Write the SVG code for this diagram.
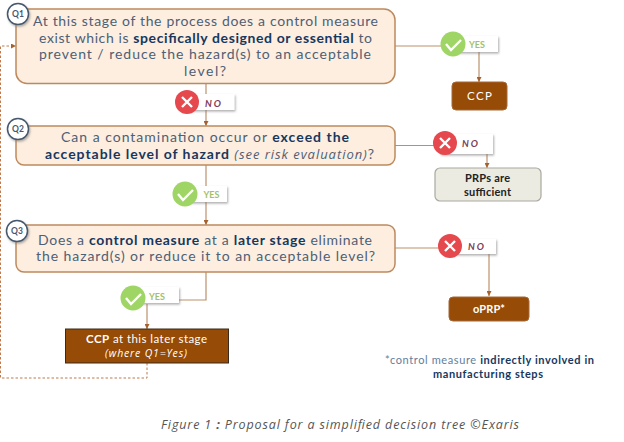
<svg xmlns="http://www.w3.org/2000/svg" width="624" height="442" viewBox="0 0 624 442">
<style>
text{font-family:"Lato","Noto Sans",sans-serif}
.q{fill:#fdeee0;stroke:#bd8a5e;stroke-width:1.5}
.t{font-size:14px;fill:#4d6075}
.t tspan.b{font-weight:700;fill:#17375e}
.i{font-family:"Open Sans","Noto Sans",sans-serif;font-style:italic;font-weight:400}
.c{fill:none;stroke:#bc8f6c;stroke-width:1.2}
.d{fill:none;stroke:#c0784a;stroke-width:1;stroke-dasharray:2.5 2}
.dark{fill:#964B06;stroke:#a5683a;stroke-width:1}
.lab{fill:#fff;filter:url(#sh)}
.yes{font-size:9px;font-weight:700;fill:#a3bf6a;text-anchor:middle}
.no{font-size:9.5px;font-weight:700;font-style:italic;fill:#7c3a56;text-anchor:middle;letter-spacing:2px}
.badge{fill:#fff;stroke:#44586e;stroke-width:1.5;filter:url(#sh)}
.bt{font-size:8.5px;font-weight:700;fill:#44586e;text-anchor:middle}
.g{fill:#9ed565}.r{fill:#e5484d}
.m{fill:none;stroke:#fff;stroke-width:2.4}
.w{fill:#fff}
</style>
<defs>
<filter id="sh" x="-30%" y="-30%" width="170%" height="170%"><feDropShadow dx="1" dy="1.5" stdDeviation="1" flood-color="#777" flood-opacity=".6"/></filter>
<marker id="a" markerWidth="6" markerHeight="5" refX="5" refY="2.5" orient="auto" markerUnits="userSpaceOnUse"><path d="M0 0L5 2.5L0 5z" fill="#a5622e"/></marker>
</defs>
<rect width="624" height="442" fill="#fff"/>
<g id="connectors">
<path class="c" d="M206 84V126" marker-end="url(#a)"/>
<path class="c" d="M395 46H445"/>
<path class="c" d="M479 50V82" marker-end="url(#a)"/>
<path class="c" d="M206 165V225" marker-end="url(#a)"/>
<path class="c" d="M395 145.500H440"/>
<path class="c" d="M487 152V168" marker-end="url(#a)"/>
<path class="c" d="M395 248H445"/>
<path class="c" d="M489 252V296" marker-end="url(#a)"/>
<path class="c" d="M206 272V300H175"/>
<path class="c" d="M147 304V329" marker-end="url(#a)"/>
<path class="d" d="M147 363V378H.5V46H16" marker-end="url(#a)"/>
</g>
<g id="q1">
<rect class="q" x="16" y="9" width="379" height="74.500" rx="11"/>
<text class="t" x="33" y="26" textLength="345">At this stage of the process does a control measure</text>
<text class="t" x="39" y="43" textLength="333">exist which is <tspan class="b">specifically designed or essential</tspan> to</text>
<text class="t" x="39" y="59" textLength="332">prevent / reduce the hazard(s) to an acceptable</text>
<text class="t" x="184" y="76" textLength="42">level?</text>
<circle class="badge" cx="18" cy="14" r="10.500"/><text class="bt" x="18" y="17">Q1</text>
</g>
<g id="q2">
<rect class="q" x="16" y="126" width="379" height="39" rx="8"/>
<text class="t" x="61" y="142" textLength="288">Can a contamination occur or <tspan class="b">exceed the</tspan></text>
<text class="t" x="45" y="159" textLength="329"><tspan class="b">acceptable level of hazard</tspan> <tspan class="i" font-size="13">(see risk evaluation)</tspan>?</text>
<circle class="badge" cx="18" cy="129" r="10.500"/><text class="bt" x="18" y="132">Q2</text>
</g>
<g id="q3">
<rect class="q" x="16" y="225" width="379" height="47" rx="8"/>
<text class="t" x="38" y="245" textLength="334">Does a <tspan class="b">control measure</tspan> at a <tspan class="b">later stage</tspan> eliminate</text>
<text class="t" x="36" y="261" textLength="339">the hazard(s) or reduce it to an acceptable level?</text>
<circle class="badge" cx="17" cy="231" r="10.500"/><text class="bt" x="17" y="234">Q3</text>
</g>
<g id="no1"><rect class="lab" x="190" y="94" width="44.500" height="16"/><text class="no" x="214" y="107">NO</text><circle class="r" cx="187" cy="102" r="12"/><path class="m" d="M182 97L192 107M192 97L182 107"/></g>
<g id="yes1"><rect class="lab" x="458" y="36" width="40" height="16"/><text class="yes" x="477" y="48">YES</text><circle class="g" cx="453" cy="44" r="12.500"/><path class="m" d="M446 44L451 50L461 40"/></g>
<g id="ccp"><rect class="dark" x="452" y="82" width="55" height="28" rx="4"/><text class="w" x="467" y="100" font-size="11.500" textLength="25">CCP</text></g>
<g id="no2"><rect class="lab" x="440" y="134" width="53" height="20"/><text class="no" x="471" y="147">NO</text><circle class="r" cx="445" cy="143" r="12"/><path class="m" d="M440 138L450 148M450 138L440 148"/></g>
<g id="prp"><rect x="435" y="168" width="106" height="33" rx="5" fill="#ecebe1" stroke="#a9a99f" stroke-width="1.2"/><text font-size="11" font-weight="700" fill="#222" x="465" y="182" textLength="45">PRPs are</text><text font-size="11" font-weight="700" fill="#222" x="464" y="196" textLength="47">sufficient</text></g>
<g id="yes2"><rect class="lab" x="190" y="186" width="37" height="16"/><text class="yes" x="211.500" y="198">YES</text><circle class="g" cx="185" cy="194" r="12.500"/><path class="m" d="M178 194L183 200L193 190"/></g>
<g id="no3"><rect class="lab" x="455" y="239" width="41" height="15"/><text class="no" x="477" y="250">NO</text><circle class="r" cx="450" cy="246" r="12"/><path class="m" d="M445 241L455 251M455 241L445 251"/></g>
<g id="oprp"><rect class="dark" x="449" y="297" width="80" height="24" rx="4"/><text class="w" x="473" y="313" font-size="11" font-weight="700" textLength="32">oPRP*</text></g>
<g id="yes3"><rect class="lab" x="138" y="287" width="41" height="16"/><text class="yes" x="157" y="300">YES</text><circle class="g" cx="133" cy="298" r="12.500"/><path class="m" d="M126 298L131 304L141 294"/></g>
<g id="ccp2"><rect x="65.500" y="329" width="163" height="34" fill="#964B06" stroke="#3d2a1a" stroke-width="1"/><text class="w" x="86" y="343" font-size="11.500" textLength="121"><tspan font-weight="700">CCP</tspan> at this later stage</text><text class="w i" x="105" y="357" font-size="10.500" textLength="82">(where Q1=Yes)</text></g>
<g id="note" font-size="11" fill="#17375e"><text x="385" y="364" textLength="209"><tspan fill="#5f7ea0">*control measure </tspan><tspan font-weight="700">indirectly involved in</tspan></text><text x="433" y="378" font-weight="700" textLength="110">manufacturing steps</text></g>
<text class="i" x="161" y="429" font-size="12.500" fill="#555" textLength="358">Figure 1 <tspan font-weight="700">:</tspan> Proposal for a simplified decision tree ©Exaris</text>
</svg>
